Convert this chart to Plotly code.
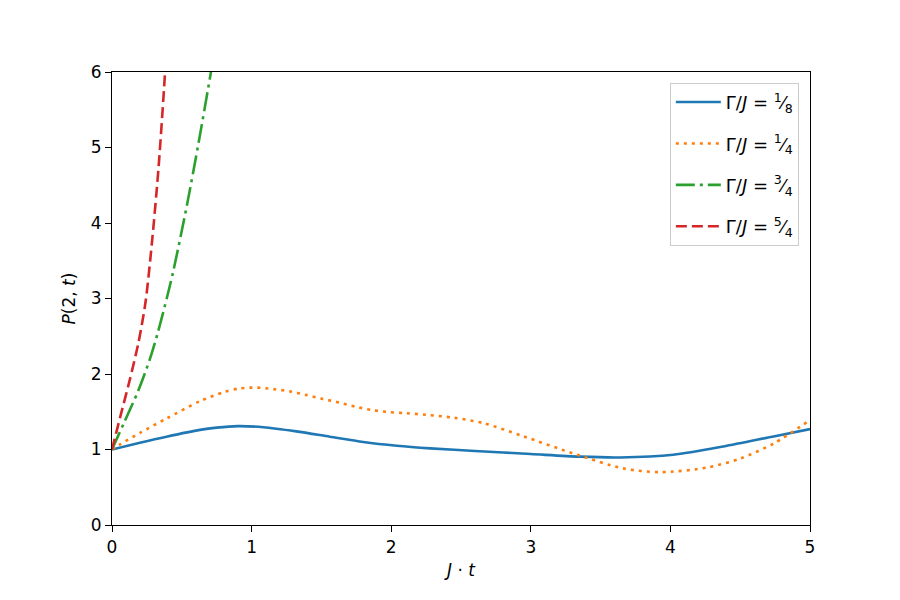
import plotly.graph_objects as go

# Series
x_g18 = [0, 0.2, 0.39, 0.63, 0.75, 0.9, 1.084, 1.32, 1.56, 1.80, 2.04, 2.28, 2.6, 3.0, 3.35, 3.64, 4.02, 4.38, 4.73, 5.0]
y_g18 = [1.0, 1.09, 1.17, 1.26, 1.29, 1.31, 1.295, 1.24, 1.17, 1.10, 1.05, 1.015, 0.98, 0.94, 0.905, 0.895, 0.93, 1.04, 1.17, 1.27]

x_g14 = [0, 0.06, 0.2, 0.39, 0.63, 0.8, 0.917, 1.036, 1.155, 1.275, 1.395, 1.51, 1.63, 1.75, 1.87, 1.99, 2.11, 2.25, 2.45, 2.66, 2.94, 3.3, 3.66, 3.93, 4.26, 4.5, 4.74, 5.0]
y_g14 = [1.0, 1.07, 1.22, 1.41, 1.64, 1.76, 1.81, 1.82, 1.80, 1.77, 1.72, 1.67, 1.62, 1.565, 1.52, 1.495, 1.48, 1.46, 1.42, 1.35, 1.18, 0.95, 0.75, 0.70, 0.76, 0.88, 1.08, 1.39]

x_g34 = [0, 0.09, 0.186, 0.27, 0.33, 0.396, 0.44, 0.535, 0.62, 0.707, 0.75]
y_g34 = [1.0, 1.37, 1.77, 2.19, 2.56, 3.03, 3.37, 4.22, 5.06, 5.98, 6.45]

x_g54 = [0, 0.06, 0.127, 0.19, 0.24, 0.284, 0.332, 0.372, 0.39]
y_g54 = [1.0, 1.44, 1.92, 2.42, 2.95, 3.7, 4.7, 5.76, 6.3]

names = [
    "Γ/<i>J</i> = <sup>1</sup>⁄<sub>8</sub>",
    "Γ/<i>J</i> = <sup>1</sup>⁄<sub>4</sub>",
    "Γ/<i>J</i> = <sup>3</sup>⁄<sub>4</sub>",
    "Γ/<i>J</i> = <sup>5</sup>⁄<sub>4</sub>",
]
colors = ["#1f77b4", "#ff7f0e", "#2ca02c", "#d62728"]
dashes = ["solid", "3px,5px", "19px,5px,3px,5px", "11px,5px"]

xs = [x_g18, x_g14, x_g34, x_g54]
ys = [y_g18, y_g14, y_g34, y_g54]

fig = go.Figure()
for i, (x, y, n, c, d) in enumerate(zip(xs, ys, names, colors, dashes)):
    fig.add_trace(go.Scatter(x=x, y=y, mode="lines", name=n, legendgroup=f"g{i}",
                             line=dict(color=c, width=2.6, dash=d, shape="spline", smoothing=0.8)))

axis_common = dict(
    showgrid=False, zeroline=False, showline=True, linecolor="black", linewidth=1.2,
    mirror=True, ticks="outside", ticklen=6, tickwidth=1.2, tickcolor="black",
    tickfont=dict(family="DejaVu Sans", size=17, color="black"),
)
fig.update_xaxes(range=[0, 5], dtick=1, title=dict(text="<i>J</i> · <i>t</i>", font=dict(family="DejaVu Sans", size=17, color="black"), standoff=8), **axis_common)
fig.update_yaxes(range=[0, 6], dtick=1, title=dict(text="<i>P</i>(2, <i>t</i>)", font=dict(family="DejaVu Sans", size=17, color="black"), standoff=10), **axis_common)

fig.update_layout(
    width=900, height=600,
    margin=dict(l=112, r=90, t=72, b=75),
    paper_bgcolor="white", plot_bgcolor="white",
    font=dict(family="DejaVu Sans", color="black"),
    legend=dict(x=0.984, y=0.976, xanchor="right", yanchor="top",
                bgcolor="rgba(255,255,255,0.8)", bordercolor="#cccccc", borderwidth=1,
                font=dict(family="DejaVu Sans", size=18, color="black"),
                itemwidth=45, tracegroupgap=15),
    showlegend=True,
)

fig.write_html("out.html")
